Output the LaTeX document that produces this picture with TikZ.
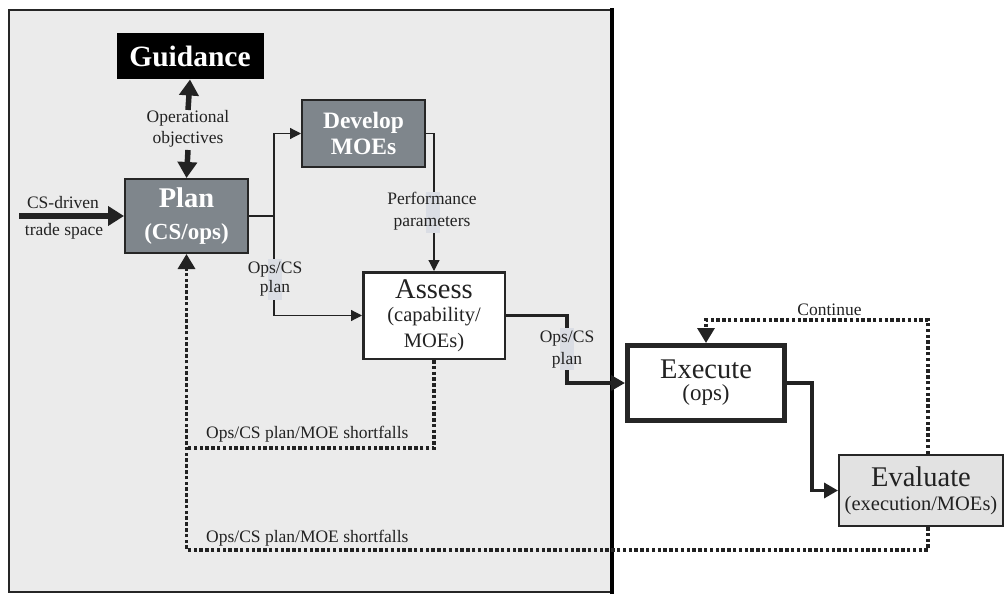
\documentclass[tikz,border=0pt]{standalone}
\usepackage{fontspec}
\setmainfont{Liberation Serif}
\usetikzlibrary{arrows.meta}
\definecolor{panelgray}{HTML}{EBEBEB}
\definecolor{stepgray}{HTML}{7F868C}
\definecolor{evalgray}{HTML}{E2E2E2}
\definecolor{edgedark}{HTML}{262626}
\definecolor{inkdark}{HTML}{222222}
\definecolor{stripblue}{HTML}{DADDE4}
\newcommand{\bigline}{\fontsize{28.5}{30}\selectfont}
\tikzset{
  boxbase/.style={draw=edgedark, line width=2pt, inner sep=0pt, align=center, text=inkdark},
  greybox/.style={boxbase, fill=stepgray, text=white},
  lbl/.style={text=inkdark, font=\fontsize{17.5}{21}\selectfont, align=center, inner sep=0pt},
  thinflow/.style={draw=inkdark, line width=1.2pt, -{Triangle[length=11pt,width=11pt]}},
  thickflow/.style={draw=inkdark, line width=3.4pt, -{Triangle[length=14pt,width=15pt]}},
  fatflow/.style={draw=inkdark, line width=5.5pt, -{Triangle[length=16pt,width=19pt]}},
  loopflow/.style={draw=inkdark, line width=3.3pt, dash pattern=on 3.5pt off 2.3pt},
  loophead/.style={loopflow, -{Triangle[length=15pt,width=17pt]}},
}
\begin{document}
\begin{tikzpicture}[x=1pt,y=-1pt]
\useasboundingbox (0,0) rectangle (1006,596);

% planning panel
\fill[panelgray] (9,10) rectangle (612,592);
\draw[edgedark, line width=1.5pt] (612,10) -- (9,10) -- (9,592) -- (612,592);
\draw[black, line width=4pt] (612,8.5) -- (612,593.5);

% process boxes
\node[boxbase, draw=black, fill=black, text=white, minimum width=145pt, minimum height=44pt,
      font=\fontsize{29.5}{30}\selectfont\bfseries] (guid) at (190,56.5) {Guidance};
\node[greybox, minimum width=123pt, minimum height=74pt,
      font=\fontsize{23}{31}\selectfont\bfseries] (plan) at (186.5,216)
  {\fontsize{28.5}{31}\selectfont Plan\\[1pt]\fontsize{23}{31}\selectfont (CS/ops)};
\node[greybox, minimum width=123pt, minimum height=67pt,
      font=\fontsize{23.5}{26}\selectfont\bfseries] (dev) at (363.5,133.5) {Develop\\MOEs};
\node[boxbase, fill=white, line width=2.5pt, minimum width=141.5pt, minimum height=86.5pt,
      font=\fontsize{20.5}{26}\selectfont] (assess) at (434,315.5)
  {\bigline Assess\\[-3pt]\fontsize{20.5}{26}\selectfont (capability/\\\fontsize{20.5}{26}\selectfont MOEs)};
\node[boxbase, fill=white, line width=5pt, minimum width=157pt, minimum height=75pt,
      font=\fontsize{23}{25}\selectfont] (exec) at (706,383)
  {\bigline Execute\\[-3pt]\fontsize{23}{25}\selectfont (ops)};
\node[boxbase, fill=evalgray, minimum width=164pt, minimum height=71pt,
      font=\fontsize{20.5}{28}\selectfont] (eval) at (921,490.5)
  {\bigline Evaluate\\[-4pt]\fontsize{20.5}{28}\selectfont (execution/MOEs)};

% routing points
\coordinate (csin) at (19,216);
\coordinate (objup) at (188,110);
\coordinate (objdown) at (188,150);
\coordinate (split) at (274,216);
\coordinate (outbend) at (567,315.5);
\coordinate (execbend) at (812,383);
\coordinate (contcorner) at (928,320);
\coordinate (backcorner) at (928,550);
\coordinate (shortcorner) at (187,448);

% main flow
\draw[fatflow] (csin) -- (csin -| plan.west);
\draw[fatflow] (objup) -- (guid.south);
\draw[fatflow] (objdown) -- (plan.north);
\draw[draw=inkdark, line width=1.2pt] (plan.east |- split) -- (split);
\draw[thinflow] (split) |- (dev.west);
\draw[thinflow] (split) |- (assess.west);
\draw[thinflow] (dev.east) -| (assess.north);
\draw[thickflow] (assess.east) -- (outbend) |- (exec.west);
\draw[thickflow] (exec.east) -- (execbend) |- (eval.west);

% feedback loops
\draw[loophead] (eval.north -| contcorner) -- (contcorner) -| (exec.north);
\draw[loophead] (eval.south -| backcorner) -- (backcorner) -| (plan.south);
\draw[loopflow] (assess.south) |- (shortcorner);

% label strips over the connectors
\fill[stripblue] (268,259) rectangle (282,300);
\fill[stripblue] (426,192) rectangle (440,233);
\fill[stripblue] (560,328) rectangle (574,370);

% labels
\node[lbl] (csl1) at (63,203) {CS-driven};
\node[lbl] (csl2) at (64,231) {trade space};
\node[lbl] (objl) at (188,128.5) {Operational\\objectives};
\node[lbl, font=\fontsize{17.5}{18.5}\selectfont] (opsl1) at (275,279) {Ops/CS\\plan};
\node[lbl, font=\fontsize{17.5}{22}\selectfont] (perfl) at (432,211) {Performance\\parameters};
\node[lbl, font=\fontsize{17.5}{22}\selectfont] (opsl2) at (567,350) {Ops/CS\\plan};
\node[lbl] (contl) at (829.5,310) {Continue};
\node[lbl, anchor=west] (shortl1) at (206,434) {Ops/CS plan/MOE shortfalls};
\node[lbl, anchor=west] (shortl2) at (206,538) {Ops/CS plan/MOE shortfalls};
\end{tikzpicture}
\end{document}
